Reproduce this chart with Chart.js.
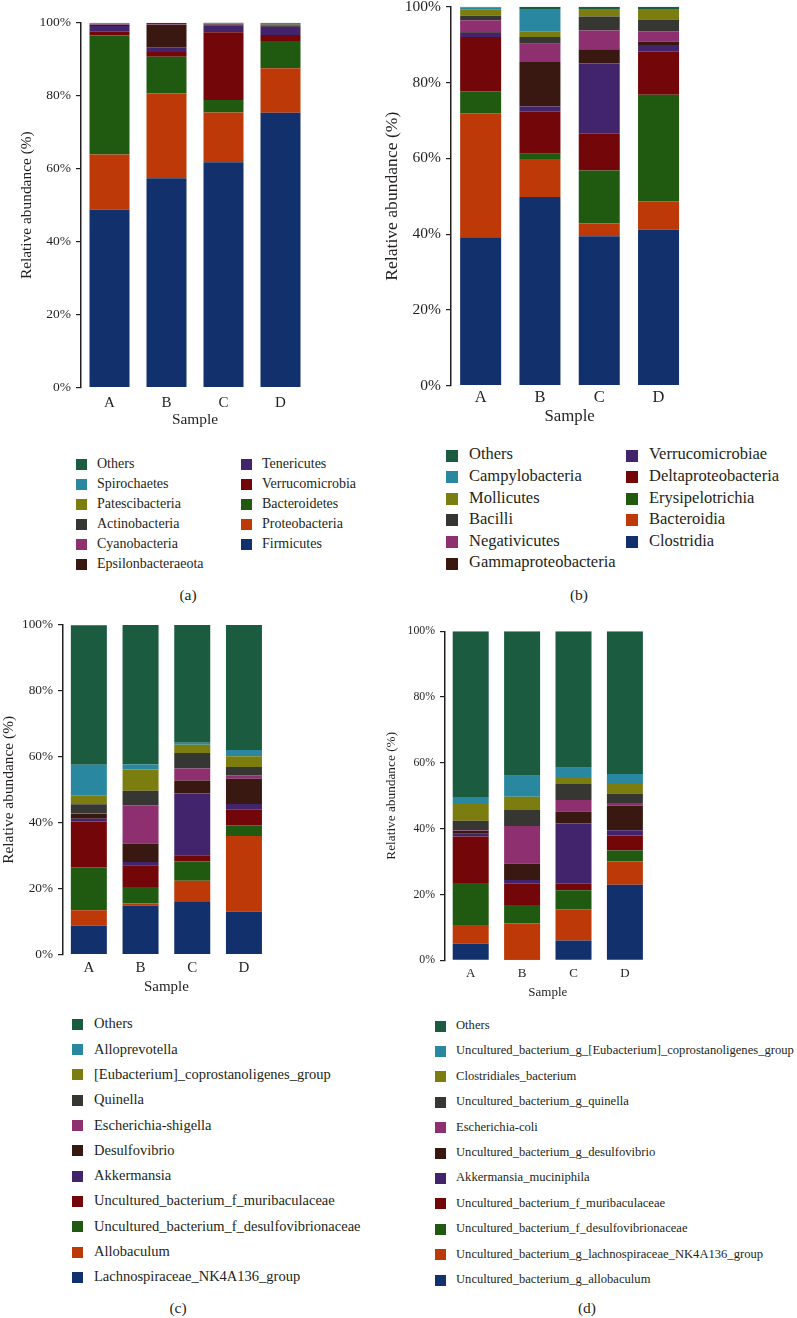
<!DOCTYPE html>
<html>
<head>
<meta charset="utf-8">
<script src="https://cdn.jsdelivr.net/npm/chart.js@4/dist/chart.umd.min.js"></script>
<style>
  html, body { margin: 0; padding: 0; background: #fff; }
  body { width: 797px; height: 1318px; position: relative; overflow: hidden; font-family: "Liberation Serif", "DejaVu Serif", serif; color: #231f20; }
  .cv { position: absolute; }
  .lg { position: absolute; white-space: nowrap; line-height: 1; }
  .sq { position: absolute; }
  .cap { position: absolute; transform: translate(-50%, -50%); font-size: 15.5px; white-space: nowrap; }
</style>
</head>
<body>
<script>
// ---------------- DATA ----------------
const samples = ['A', 'B', 'C', 'D'];
const yTickValues = [0, 20, 40, 60, 80, 100];

// (a) phylum level, stack order bottom -> top
const phylumNames = ['Firmicutes', 'Proteobacteria', 'Bacteroidetes', 'Verrucomicrobia', 'Tenericutes', 'Epsilonbacteraeota', 'Cyanobacteria', 'Actinobacteria', 'Patescibacteria', 'Spirochaetes', 'Others'];
const phylumValues = [
  [48.8, 57.4, 61.8, 75.3],
  [15.1, 23.2, 13.6, 12.2],
  [32.6, 10.1, 3.4, 7.5],
  [1.0, 1.3, 18.6, 1.6],
  [1.6, 1.3, 1.9, 2.3],
  [0.3, 6.1, 0.2, 0.3],
  [0.1, 0.1, 0.1, 0.1],
  [0.2, 0.4, 0.1, 0.2],
  [0.1, 0.1, 0.1, 0.1],
  [0.1, 0.0, 0.1, 0.1],
  [0.1, 0.0, 0.2, 0.3]
];

// (b) class level
const classNames = ['Clostridia', 'Bacteroidia', 'Erysipelotrichia', 'Deltaproteobacteria', 'Verrucomicrobiae', 'Gammaproteobacteria', 'Negativicutes', 'Bacilli', 'Mollicutes', 'Campylobacteria', 'Others'];
const classValues = [
  [39.2, 49.8, 39.4, 41.2],
  [32.7, 10.0, 3.4, 7.5],
  [5.8, 1.4, 14.0, 28.1],
  [14.3, 11.1, 9.7, 11.3],
  [1.1, 1.4, 18.5, 1.8],
  [0.2, 11.7, 3.8, 0.9],
  [3.1, 4.8, 4.9, 2.7],
  [1.2, 1.8, 3.7, 3.1],
  [1.6, 1.4, 1.7, 2.5],
  [0.6, 6.0, 0.1, 0.1],
  [0.2, 0.6, 0.8, 0.8]
];

// (c) genus level
const genusNames = ['Lachnospiraceae_NK4A136_group', 'Allobaculum', 'Uncultured_bacterium_f_desulfovibrionaceae', 'Uncultured_bacterium_f_muribaculaceae', 'Akkermansia', 'Desulfovibrio', 'Escherichia-shigella', 'Quinella', '[Eubacterium]_coprostanoligenes_group', 'Alloprevotella', 'Others'];
const genusValues = [
  [8.8, 14.9, 16.2, 13.1],
  [4.7, 0.6, 6.2, 22.9],
  [13.0, 5.0, 5.9, 3.3],
  [13.9, 6.6, 1.9, 4.7],
  [0.8, 1.0, 18.7, 1.7],
  [1.5, 5.6, 3.9, 7.7],
  [0.2, 11.6, 3.7, 1.0],
  [2.7, 4.4, 4.7, 2.5],
  [2.6, 6.5, 2.5, 3.3],
  [9.4, 1.5, 0.6, 1.9],
  [42.3, 42.3, 35.7, 37.9]
];

// (d) species level
const speciesNames = ['Uncultured_bacterium_g_allobaculum', 'Uncultured_bacterium_g_lachnospiraceae_NK4A136_group', 'Uncultured_bacterium_f_desulfovibrionaceae', 'Uncultured_bacterium_f_muribaculaceae', 'Akkermansia_muciniphila', 'Uncultured_bacterium_g_desulfovibrio', 'Escherichia-coli', 'Uncultured_bacterium_g_quinella', 'Clostridiales_bacterium', 'Uncultured_bacterium_g_[Eubacterium]_coprostanoligenes_group', 'Others'];
const speciesValues = [
  [5.0, 0.4, 6.0, 23.0],
  [5.7, 10.8, 9.5, 7.0],
  [12.8, 5.6, 5.8, 3.4],
  [14.1, 6.5, 2.0, 4.5],
  [0.9, 1.1, 18.3, 1.6],
  [0.9, 5.0, 3.6, 7.5],
  [0.1, 11.4, 3.5, 0.8],
  [2.9, 4.9, 4.9, 2.9],
  [5.1, 4.0, 2.1, 2.9],
  [2.1, 6.4, 2.8, 3.0],
  [50.4, 43.9, 41.5, 43.4]
];

// ---------------- STYLE ----------------
const palette = ['#12306b', '#bd3a08', '#1f5a10', '#730608', '#42246c', '#3a1812', '#8e3070', '#363733', '#7b7d0f', '#2a87a0', '#1b5b40'];
const FONT = '"Liberation Serif", "DejaVu Serif", serif';
const INK = '#231f20';

const panels = [
  { names: phylumNames, values: phylumValues, box: { L: 0, T: 0, W: 330, H: 440 },
    axisX: 81, top: 22.7, bottom: 387.7, step: 57, barW: 40,
    yFont: 13.5, yTitleFont: 15.4, yTitleX: 27, xFont: 15, xTickY: 402, sampleY: 420, sampleFont: 15.4,
    legend: { cols: [[10, 9, 8, 7, 6, 5], [4, 3, 2, 1, 0]], colX: [76, 241], textDx: 21, y0: 464.3, dy: 20, font: 14, sq: 11 },
    caption: { text: '(a)', x: 188, y: 595 } },
  { names: classNames, values: classValues, box: { L: 380, T: -14, W: 330, H: 454 },
    axisX: 451, top: 6.7, bottom: 385.7, step: 59.3, barW: 41,
    yFont: 15.5, yTitleFont: 17.6, yTitleX: 392, xFont: 16.5, xTickY: 397, sampleY: 417, sampleFont: 16.8,
    legend: { cols: [[10, 9, 8, 7, 6, 5], [4, 3, 2, 1, 0]], colX: [446, 626], textDx: 23, y0: 455.5, dy: 21.6, font: 16.5, sq: 12 },
    caption: { text: '(b)', x: 579, y: 595 } },
  { names: genusNames, values: genusValues, box: { L: 0, T: 600, W: 300, H: 410 },
    axisX: 63, top: 625, bottom: 954.7, step: 51.7, barW: 36,
    yFont: 13.3, yTitleFont: 15.4, yTitleX: 8, xFont: 15, xTickY: 967, sampleY: 987, sampleFont: 15,
    legend: { cols: [[10, 9, 8, 7, 6, 5, 4, 3, 2, 1, 0]], colX: [72], textDx: 22, y0: 1024.3, dy: 25.3, font: 14.5, sq: 11 },
    caption: { text: '(c)', x: 178, y: 1308 } },
  { names: speciesNames, values: speciesValues, box: { L: 380, T: 600, W: 300, H: 410 },
    axisX: 445, top: 631.3, bottom: 960.3, step: 51.4, barW: 36,
    yFont: 11.8, yTitleFont: 13.3, yTitleX: 392, xFont: 13, xTickY: 973, sampleY: 993, sampleFont: 13,
    legend: { cols: [[10, 9, 8, 7, 6, 5, 4, 3, 2, 1, 0]], colX: [435], textDx: 21, y0: 1026, dy: 25.4, font: 12.6, sq: 11 },
    caption: { text: '(d)', x: 587, y: 1308 } }
];

function el(tag, cls, style, text) {
  const e = document.createElement(tag);
  if (cls) e.className = cls;
  Object.assign(e.style, style || {});
  if (text !== undefined) e.textContent = text;
  document.body.appendChild(e);
  return e;
}

panels.forEach(p => {
  const b = p.box;
  const canvas = el('canvas', 'cv', { left: b.L + 'px', top: b.T + 'px', width: b.W + 'px', height: b.H + 'px' });
  canvas.width = b.W; canvas.height = b.H;

  const chartRight = p.axisX + p.step * samples.length;
  const yLH = p.yTitleFont * 1.2;
  const xLH = p.sampleFont * 1.2;

  new Chart(canvas, {
    type: 'bar',
    data: {
      labels: samples,
      datasets: p.names.map((n, i) => ({
        label: n,
        data: p.values[i],
        backgroundColor: palette[i],
        borderWidth: 0,
        categoryPercentage: 1,
        barPercentage: p.barW / p.step
      }))
    },
    options: {
      responsive: false,
      animation: false,
      devicePixelRatio: 1,
      layout: { padding: { left: 0, top: p.top - b.T, right: (b.L + b.W) - chartRight, bottom: 0 } },
      plugins: { legend: { display: false }, tooltip: { enabled: false } },
      scales: {
        x: {
          stacked: true,
          offset: true,
          grid: { display: false, drawTicks: false },
          border: { display: false },
          ticks: { color: INK, font: { family: FONT, size: p.xFont }, padding: p.xTickY - p.bottom - p.xFont * 0.56 },
          title: { display: true, text: 'Sample', color: INK, font: { family: FONT, size: p.sampleFont },
                   padding: { top: 0, bottom: (b.T + b.H) - p.sampleY - xLH / 2 } },
          afterFit: s => { s.height = (b.T + b.H) - p.bottom; }
        },
        y: {
          stacked: true,
          min: 0, max: 100,
          afterBuildTicks: s => { s.ticks = yTickValues.map(v => ({ value: v })); },
          grid: { display: true, drawOnChartArea: false, drawTicks: true, tickLength: 5, color: INK, lineWidth: 1.2 },
          border: { display: true, color: INK, width: 1.5 },
          ticks: { color: INK, font: { family: FONT, size: p.yFont }, padding: 5, callback: v => v + '%' },
          title: { display: true, text: 'Relative abundance (%)', color: INK, font: { family: FONT, size: p.yTitleFont },
                   padding: { top: Math.max(0, (p.yTitleX - b.L) - yLH / 2), bottom: 0 } },
          afterFit: s => { s.width = p.axisX - b.L; }
        }
      }
    }
  });

  // legend (HTML, generated from the series names)
  const lg = p.legend;
  lg.cols.forEach((col, ci) => {
    col.forEach((idx, ri) => {
      const cy = lg.y0 + ri * lg.dy;
      el('div', 'sq', { left: lg.colX[ci] + 'px', top: (cy - lg.sq / 2) + 'px', width: lg.sq + 'px', height: lg.sq + 'px', background: palette[idx] });
      el('div', 'lg', { left: (lg.colX[ci] + lg.textDx) + 'px', top: (cy - lg.font * 0.55) + 'px', fontSize: lg.font + 'px' }, p.names[idx]);
    });
  });
  el('div', 'cap', { left: p.caption.x + 'px', top: p.caption.y + 'px' }, p.caption.text);
});
</script>
</body>
</html>
